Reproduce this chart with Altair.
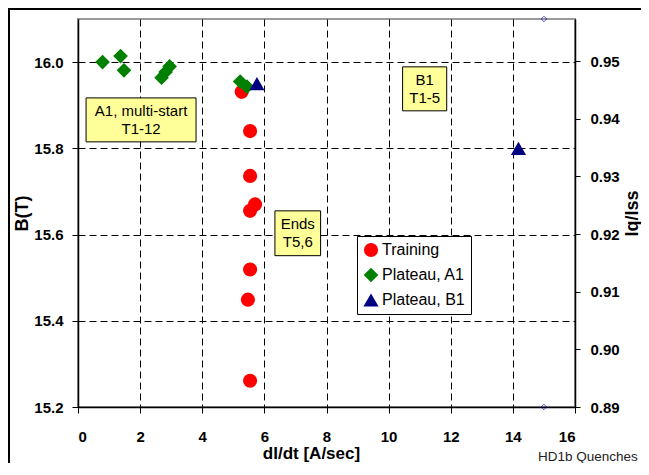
import altair as alt
import pandas as pd

# ---- data ----
train_x = [5.27, 5.54, 5.54, 5.54, 5.70, 5.54, 5.47, 5.54]
train_y = [15.931, 15.840, 15.736, 15.655, 15.670, 15.519, 15.449, 15.261]
a1_x = [0.79, 1.37, 1.48, 2.69, 2.82, 2.95, 5.22, 5.44]
a1_y = [16.000, 16.014, 15.981, 15.964, 15.977, 15.990, 15.955, 15.943]
b1_x = [5.76, 14.18]
b1_y = [15.950, 15.800]
ref_x = [15, 15]
ref_y = [0.89, 0.9573]

series_names = ["Training", "Plateau, A1", "Plateau, B1"]
series_colors = ["#FF0000", "#008000", "#000080"]
series_shapes = ["circle", "diamond", "triangle-up"]
series_sizes = [200, 230, 190]

note_text = ["A1, multi-start\nT1-12", "B1\nT1-5", "Ends\nT5,6"]
note_x1 = [0.26, 10.45, 6.34]
note_x2 = [3.80, 11.87, 7.81]
note_y1 = [15.917, 15.989, 15.655]
note_y2 = [15.815, 15.887, 15.551]

rows = []
for n, xs_, ys_ in zip(series_names, [train_x, a1_x, b1_x], [train_y, a1_y, b1_y]):
    for a, b in zip(xs_, ys_):
        rows.append({"series": n, "x": a, "y": b})
pts = pd.DataFrame(rows)
ref = pd.DataFrame({"x": ref_x, "y": ref_y})
notes = pd.DataFrame({
    "text": note_text, "x1": note_x1, "x2": note_x2, "y1": note_y1, "y2": note_y2,
})
notes["xc"] = (notes.x1 + notes.x2) / 2
notes["yc"] = (notes.y1 + notes.y2) / 2

FONT = "Liberation Sans"
xscale = alt.Scale(domain=[0, 16], nice=False, zero=False)
yscale = alt.Scale(domain=[15.2, 16.1], nice=False, zero=False)

xaxis = alt.Axis(
    values=list(range(0, 17, 2)), title="dI/dt [A/sec]", titleX=233,
    grid=True, gridColor="black", gridDash=[7, 4], gridWidth=1, gridOpacity=1,
    domainColor="black", domainWidth=1.5, tickColor="black", tickSize=6,
    labelPadding=16, labelFontSize=15, labelFontWeight="bold", labelFont=FONT,
    labelColor="black", titleFontSize=17, titleFontWeight="bold", titleFont=FONT,
    titleColor="black", titlePadding=1,
)
yaxis = alt.Axis(
    values=[15.2, 15.4, 15.6, 15.8, 16.0], format=".1f", title="B(T)",
    grid=True, gridColor="black", gridDash=[7, 4], gridWidth=1, gridOpacity=1,
    domainColor="black", domainWidth=1.5, tickColor="black", tickSize=6,
    labelPadding=9, labelFontSize=15, labelFontWeight="bold", labelFont=FONT,
    labelColor="black", titleFontSize=18, titleFontWeight="bold", titleFont=FONT,
    titleColor="black", titlePadding=2,
)

points = alt.Chart(pts).mark_point(filled=True, opacity=1, strokeWidth=0).encode(
    x=alt.X("x:Q", scale=xscale, axis=xaxis),
    y=alt.Y("y:Q", scale=yscale, axis=yaxis),
    color=alt.Color("series:N", scale=alt.Scale(domain=series_names, range=series_colors),
                    legend=alt.Legend(title=None)),
    shape=alt.Shape("series:N", scale=alt.Scale(domain=series_names, range=series_shapes),
                    legend=alt.Legend(title=None)),
    size=alt.Size("series:N", scale=alt.Scale(domain=series_names, range=series_sizes),
                  legend=None),
)

boxes = alt.Chart(notes).mark_rect(fill="#FFFF99", stroke="black", strokeWidth=1).encode(
    x=alt.X("x1:Q", scale=xscale), x2="x2:Q",
    y=alt.Y("y1:Q", scale=yscale), y2="y2:Q",
)
box_text = alt.Chart(notes).mark_text(
    font=FONT, fontSize=15, color="black", lineBreak="\n", lineHeight=18,
    align="center", baseline="middle", dy=-9,
).encode(
    x=alt.X("xc:Q", scale=xscale), y=alt.Y("yc:Q", scale=yscale), text="text:N",
)

right = alt.Chart(ref).mark_point(shape="diamond", filled=False, color="#0000CC",
                                  size=30, strokeWidth=1).encode(
    x=alt.X("x:Q", scale=xscale),
    y=alt.Y("y:Q", scale=alt.Scale(domain=[0.89, 0.9573], nice=False, zero=False),
            axis=alt.Axis(
                orient="right", values=[0.89, 0.90, 0.91, 0.92, 0.93, 0.94, 0.95],
                format=".2f", title="Iq/Iss", grid=False,
                domainColor="black", domainWidth=1.5, tickColor="black", tickSize=5,
                labelPadding=10, labelFontSize=15, labelFontWeight="bold",
                labelFont=FONT, labelColor="black", titleFontSize=18,
                titleFontWeight="bold", titleFont=FONT, titleColor="black",
                titleAngle=270, titlePadding=22,
            )),
)

one = pd.DataFrame({"k": [0]})
frame = alt.Chart(one).mark_rect(fillOpacity=0, stroke="black", strokeWidth=2).encode(
    x=alt.value(-69), x2=alt.value(700), y=alt.value(-10), y2=alt.value(600),
)
footer = alt.Chart(one).mark_text(
    font=FONT, fontSize=13.5, color="#222222", align="left", baseline="middle",
).encode(x=alt.value(460), y=alt.value(438), text=alt.value("HD1b Quenches"))

main = alt.layer(boxes, box_text, points, frame, footer)
chart = alt.layer(main, right).resolve_scale(
    y="independent", color="independent", shape="independent", size="independent"
).properties(
    width=497, height=388,
    padding={"left": 70, "top": 11, "right": 66, "bottom": 56},
    autosize=alt.AutoSizeParams(type="none"),
    background="white",
).configure_view(
    stroke="#999999", strokeWidth=2,
).configure_legend(
    orient="none", legendX=279, legendY=217,
    strokeColor="black", fillColor="white", padding=6, cornerRadius=0,
    labelFont=FONT, labelFontSize=16, labelColor="black",
    symbolSize=190, symbolStrokeWidth=0, rowPadding=9, labelOffset=3,
    symbolOpacity=1,
)

chart.save("out.html", embed_options={"renderer": "svg", "actions": False})
